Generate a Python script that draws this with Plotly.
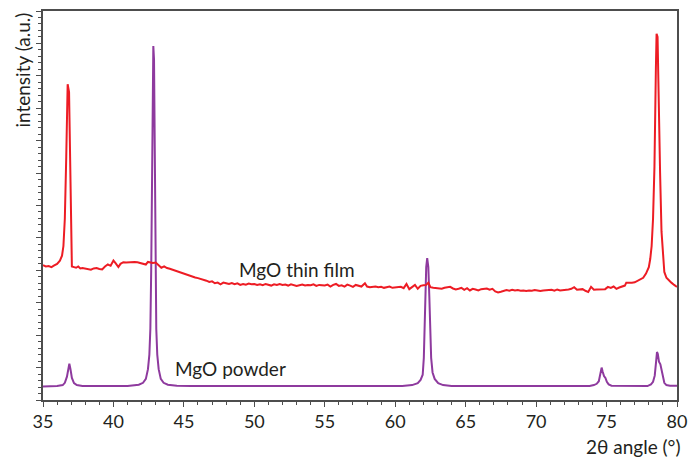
import plotly.graph_objects as go

# MgO thin film (red)
film_x = [35.0, 35.2, 35.4, 35.6, 35.8, 36.0, 36.2, 36.35, 36.45, 36.55, 36.65, 36.75, 36.85, 36.95, 37.0, 37.05,
          37.2, 37.35, 37.5, 37.65, 37.8, 38.0, 38.2, 38.4, 38.6, 38.8, 39.0, 39.2, 39.4, 39.6, 39.8, 40.0,
          40.15, 40.35, 40.5, 40.7, 40.9, 41.1, 41.3, 41.5, 41.7, 41.9, 42.1, 42.3, 42.45, 42.6, 42.8, 43.0,
          43.2, 43.4, 43.6, 43.8, 44.0, 44.2, 44.4, 44.6, 44.8, 45.0, 45.2, 45.4, 45.6, 45.8, 46.0, 46.2,
          46.4, 46.6, 46.8, 47.0, 47.2, 47.4, 47.6, 47.8, 48.0, 48.2, 48.4, 48.6, 48.8, 49.0, 49.2, 49.4,
          49.6, 49.8, 50.0, 50.2, 50.4, 50.6, 50.8, 51.0, 51.2, 51.4, 51.6, 51.8, 52.0, 52.2, 52.4, 52.6,
          52.8, 53.0, 53.2, 53.4, 53.6, 53.8, 54.0, 54.2, 54.4, 54.6, 54.8, 55.0, 55.2, 55.4, 55.6, 55.8,
          56.0, 56.2, 56.4, 56.6, 56.8, 57.0, 57.2, 57.4, 57.6, 57.85, 58.0, 58.2, 58.4, 58.6, 58.8, 59.0,
          59.2, 59.4, 59.6, 59.8, 60.0, 60.2, 60.4, 60.6, 60.8, 61.0, 61.2, 61.4, 61.6, 61.8, 62.0, 62.2,
          62.35, 62.5, 62.7, 62.9, 63.1, 63.3, 63.5, 63.7, 63.9, 64.1, 64.3, 64.5, 64.7, 64.9, 65.1, 65.3,
          65.5, 65.7, 65.9, 66.1, 66.3, 66.5, 66.7, 66.9, 67.1, 67.3, 67.5, 67.7, 67.9, 68.1, 68.3, 68.5,
          68.7, 68.9, 69.1, 69.3, 69.5, 69.7, 69.9, 70.1, 70.3, 70.5, 70.7, 70.9, 71.1, 71.3, 71.5, 71.7,
          71.9, 72.1, 72.3, 72.5, 72.7, 72.9, 73.1, 73.3, 73.5, 73.7, 73.9, 74.1, 74.3, 74.5, 74.7, 74.9,
          75.1, 75.3, 75.5, 75.7, 75.9, 76.1, 76.3, 76.4, 76.6, 76.8, 77.0, 77.2, 77.4, 77.6, 77.8, 78.0,
          78.1, 78.2, 78.3, 78.4, 78.5, 78.55, 78.62, 78.7, 78.8, 78.9, 79.0, 79.1, 79.25, 79.4, 79.6, 79.8,
          80.0]
film_y = [4.16, 4.12, 4.13, 4.10, 4.15, 4.20, 4.30, 4.45, 4.75, 5.6, 7.5, 9.74, 9.5, 7.0, 4.8, 4.12,
          4.10, 4.08, 4.12, 4.06, 4.07, 4.05, 4.03, 4.02, 4.06, 4.07, 4.04, 4.03, 4.12, 4.18, 4.14, 4.30,
          4.22, 4.10, 4.20, 4.25, 4.24, 4.25, 4.25, 4.26, 4.25, 4.23, 4.22, 4.18, 4.26, 4.24, 4.23, 4.24,
          4.16, 4.08, 4.12, 4.07, 4.05, 4.02, 3.98, 3.95, 3.93, 3.88, 3.87, 3.84, 3.80, 3.78, 3.76, 3.74,
          3.70, 3.68, 3.64, 3.66, 3.60, 3.62, 3.57, 3.62, 3.60, 3.58, 3.61, 3.57, 3.60, 3.55, 3.58, 3.56,
          3.59, 3.57, 3.58, 3.55, 3.57, 3.54, 3.58, 3.56, 3.53, 3.57, 3.55, 3.58, 3.55, 3.56, 3.53, 3.57,
          3.55, 3.52, 3.54, 3.56, 3.53, 3.55, 3.54, 3.57, 3.52, 3.55, 3.54, 3.53, 3.56, 3.50, 3.55, 3.58,
          3.52, 3.54, 3.50, 3.56, 3.53, 3.49, 3.55, 3.52, 3.50, 3.60, 3.50, 3.48, 3.49, 3.50, 3.48, 3.49,
          3.46, 3.47, 3.50, 3.46, 3.47, 3.46, 3.49, 3.45, 3.58, 3.42, 3.48, 3.55, 3.43, 3.52, 3.54, 3.55,
          3.62, 3.48, 3.46, 3.45, 3.44, 3.43, 3.46, 3.47, 3.49, 3.44, 3.41, 3.43, 3.46, 3.40, 3.45, 3.38,
          3.43, 3.41, 3.38, 3.42, 3.43, 3.44, 3.40, 3.43, 3.35, 3.32, 3.34, 3.36, 3.39, 3.37, 3.40, 3.38,
          3.39, 3.37, 3.38, 3.36, 3.38, 3.37, 3.39, 3.38, 3.36, 3.38, 3.39, 3.38, 3.40, 3.37, 3.41, 3.38,
          3.39, 3.38, 3.41, 3.43, 3.48, 3.40, 3.42, 3.42, 3.37, 3.33, 3.49, 3.40, 3.41, 3.41, 3.41, 3.42,
          3.49, 3.46, 3.50, 3.43, 3.47, 3.50, 3.53, 3.62, 3.61, 3.62, 3.63, 3.67, 3.71, 3.77, 3.90, 4.10,
          4.35, 4.75, 5.6, 7.2, 10.2, 11.3, 11.2, 9.0, 7.0, 5.2, 4.4, 3.95, 3.77, 3.70, 3.62, 3.55,
          3.49]

# MgO powder (purple)
powder_x = [35.0, 36.0, 36.4, 36.55, 36.7, 36.8, 36.87, 36.95, 37.05, 37.2, 37.4, 37.8,
            41.0, 41.8, 42.1, 42.3, 42.45, 42.55, 42.62, 42.68, 42.73, 42.78, 42.83, 42.88, 42.93, 42.98,
            43.04, 43.11, 43.21, 43.36, 43.56, 43.86, 44.5, 45.5,
            60.5, 61.2, 61.6, 61.8, 61.95, 62.03, 62.08, 62.14, 62.2, 62.27, 62.35, 62.42, 62.48, 62.55,
            62.65, 62.8, 63.05, 63.4, 64.0,
            73.8, 74.1, 74.3, 74.45, 74.55, 74.65, 74.72, 74.82, 74.92, 75.02, 75.15, 75.35,
            77.9, 78.15, 78.3, 78.42, 78.52, 78.58, 78.64, 78.72, 78.82, 78.9, 79.0, 79.1, 79.25, 79.5, 80.0]
powder_y = [0.42, 0.43, 0.46, 0.53, 0.72, 0.98, 1.12, 0.95, 0.68, 0.52, 0.46, 0.43,
            0.43, 0.47, 0.53, 0.65, 0.95, 1.4, 2.2, 4.0, 7.5, 10.5, 10.92, 10.5, 7.5, 4.0,
            2.2, 1.4, 0.95, 0.65, 0.53, 0.47, 0.44, 0.43,
            0.43, 0.46, 0.52, 0.62, 0.78, 1.3, 2.3, 3.4, 4.1, 4.38, 4.1, 3.2, 2.2, 1.3,
            0.85, 0.65, 0.52, 0.46, 0.43,
            0.43, 0.46, 0.50, 0.58, 0.75, 1.0, 0.88, 0.74, 0.68, 0.56, 0.48, 0.44,
            0.43, 0.48, 0.56, 0.75, 1.2, 1.48, 1.42, 1.18, 1.10, 0.95, 0.68, 0.53, 0.46, 0.44, 0.44]

x_ticks = [35, 40, 45, 50, 55, 60, 65, 70, 75, 80]

RED = "#ED1C24"
PURPLE = "#8E3A9E"
TXT = "#231F20"
AX = "#4D4D4D"
FONT = "Lato"

fig = go.Figure()
fig.add_trace(go.Scatter(x=powder_x, y=powder_y, mode="lines",
                         line=dict(color=PURPLE, width=2), showlegend=False))
fig.add_trace(go.Scatter(x=film_x, y=film_y, mode="lines",
                         line=dict(color=RED, width=2), showlegend=False))

# page body has an 8px margin: figure sits at (8, 8)
fig.update_layout(
    width=690, height=453,
    margin=dict(l=35, r=21, t=1, b=61),
    paper_bgcolor="white", plot_bgcolor="white",
    font=dict(family=FONT, size=18, color=TXT),
    xaxis=dict(range=[35, 80], tickvals=x_ticks, ticktext=[str(v) for v in x_ticks],
               ticks="outside", ticklen=5, tickwidth=1, tickcolor=AX,
               minor=dict(dtick=1, ticks="outside", ticklen=3, tickcolor=AX, tickwidth=1),
               showline=True, linecolor=AX, linewidth=1.5, mirror=True,
               showgrid=False, zeroline=False,
               tickfont=dict(family=FONT, size=18, color=TXT)),
    yaxis=dict(range=[0, 12], dtick=1, tick0=0, showticklabels=False,
               ticks="outside", ticklen=5, tickwidth=1, tickcolor=AX,
               minor=dict(dtick=0.2, ticks="outside", ticklen=3, tickcolor=AX, tickwidth=1),
               showline=True, linecolor=AX, linewidth=1.5, mirror=True,
               showgrid=False, zeroline=False),
    annotations=[
        dict(text="MgO thin film", x=53.0, y=4.04, xref="x", yref="y", showarrow=False,
             font=dict(family=FONT, size=19, color=TXT)),
        dict(text="MgO powder", x=48.3, y=0.98, xref="x", yref="y", showarrow=False,
             font=dict(family=FONT, size=19, color=TXT)),
        dict(text="2θ angle (°)", x=1.0095, y=-0.12, xref="paper", yref="paper",
             xanchor="right", yanchor="middle", showarrow=False,
             font=dict(family=FONT, size=19, color=TXT)),
        dict(text="intensity (a.u.)", x=-0.033, y=1.0, xref="paper", yref="paper",
             xanchor="center", yanchor="top", textangle=-90, showarrow=False,
             font=dict(family=FONT, size=19, color=TXT)),
    ],
)

fig.write_html("out.html")
